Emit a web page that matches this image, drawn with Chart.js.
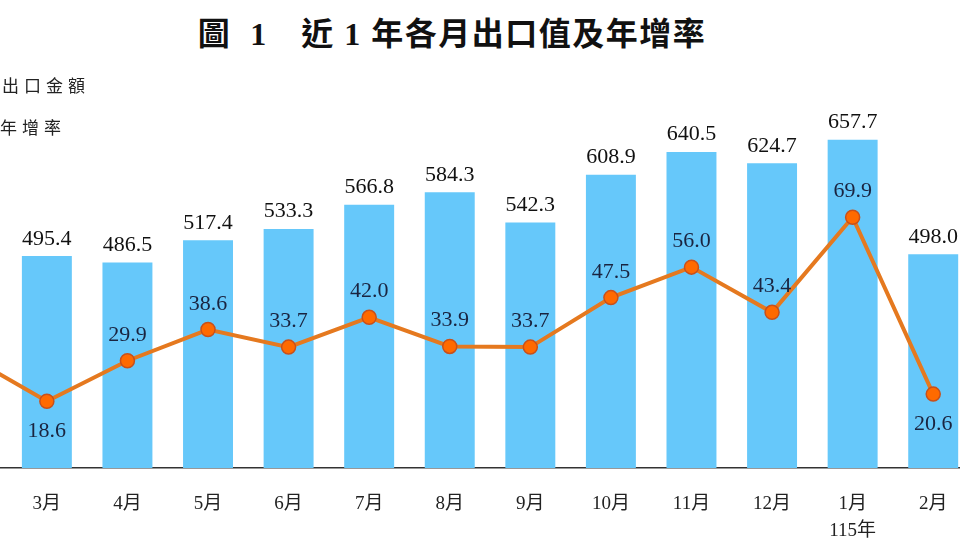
<!DOCTYPE html>
<html lang="zh-Hant">
<head>
  <meta charset="UTF-8">
  <title>近1年各月出口值及年增率</title>
  <script src="https://cdn.jsdelivr.net/npm/chart.js@4.4.1/dist/chart.umd.min.js"></script>
  <style>
    html, body {
      margin: 0;
      width: 960px;
      height: 540px;
      overflow: hidden;
      background: #fff;
    }
    .title {
      position: absolute;
      left: 0;
      width: 904px;
      top: 8px;
      text-align: center;
      font: bold 32px "Liberation Serif", "Noto Sans CJK TC", serif;
      letter-spacing: 1.5px;
      color: #111;
      white-space: pre;
    }
    .legend {
      position: absolute;
      left: -52px;
      top: 72px;
      font: 17px "Noto Sans CJK TC", sans-serif;
      letter-spacing: 5px;
      color: #222;
      z-index: 2;
    }
    .legend div {
      height: 42px;
      display: flex;
      align-items: flex-start;
    }
    .legend .box {
      width: 40px;
      height: 14px;
      margin: 5px 14px 0 0;
      background: #66c8fa;
    }
    .legend .ln {
      width: 40px;
      height: 4px;
      margin: 10px 12px 0 0;
      background: #e5791f;
    }
    .wrap {
      position: absolute;
      left: -100px;
      top: 0;
      width: 1100px;
      height: 540px;
    }
  </style>
</head>
<body>
  <div class="title">圖  1　近 1 年各月出口值及年增率</div>
  <div class="legend">
    <div><span class="box"></span>出口金額</div>
    <div><span class="ln"></span>年增率</div>
  </div>
  <div class="wrap"><canvas id="expChart"></canvas></div>
  <script>
    // 114年2月 ~ 115年2月 (first month sits off the left edge)
    const months = [['2月', '114年'], '3月', '4月', '5月', '6月', '7月', '8月', '9月', '10月', '11月', '12月', ['1月', '115年'], '2月'];
    const exportValue = [413.3, 495.4, 486.5, 517.4, 533.3, 566.8, 584.3, 542.3, 608.9, 640.5, 624.7, 657.7, 498.0];
    const growthRate = [31.5, 18.6, 29.9, 38.6, 33.7, 42.0, 33.9, 33.7, 47.5, 56.0, 43.4, 69.9, 20.6];
    const rateLabelSide = ['above', 'below', 'above', 'above', 'above', 'above', 'above', 'above', 'above', 'above', 'above', 'above', 'below'];

    const valueLabels = {
      id: 'valueLabels',
      afterDatasetsDraw(chart) {
        const ctx = chart.ctx;
        ctx.save();
        ctx.font = '22px "Liberation Serif", serif';
        ctx.textAlign = 'center';
        ctx.textBaseline = 'alphabetic';

        const bars = chart.getDatasetMeta(0).data;
        ctx.fillStyle = '#111';
        bars.forEach((bar, i) => {
          ctx.fillText(exportValue[i].toFixed(1), bar.x, bar.y - 11.5);
        });

        const pts = chart.getDatasetMeta(1).data;
        ctx.fillStyle = '#1a2440';
        pts.forEach((pt, i) => {
          const y = rateLabelSide[i] === 'below' ? pt.y + 36 : pt.y - 20;
          ctx.fillText(growthRate[i].toFixed(1), pt.x, y);
        });
        ctx.restore();
      }
    };

    new Chart(document.getElementById('expChart'), {
      data: {
        labels: months,
        datasets: [{
          type: 'bar',
          label: '出口金額',
          data: exportValue,
          yAxisID: 'y',
          backgroundColor: '#66c8fa',
          categoryPercentage: 1,
          barPercentage: 0.62,
          order: 1
        }, {
          type: 'line',
          label: '年增率',
          data: growthRate,
          yAxisID: 'y1',
          borderColor: '#e5791f',
          borderWidth: 4,
          pointRadius: 7,
          pointBackgroundColor: '#ff6a00',
          pointBorderColor: '#c8501a',
          pointBorderWidth: 1.5,
          tension: 0,
          order: 0
        }]
      },
      options: {
        responsive: true,
        maintainAspectRatio: false,
        animation: false,
        layout: { padding: { left: 26, right: 26.5, top: 109.3, bottom: 0 } },
        plugins: {
          legend: { display: false },
          tooltip: { enabled: false }
        },
        scales: {
          x: {
            offset: true,
            grid: { display: false, drawTicks: false },
            border: { display: true, color: '#333', width: 1.5 },
            ticks: {
              color: '#222',
              padding: 22,
              maxRotation: 0,
              autoSkip: false,
              font: { family: '"Liberation Serif", "Noto Sans CJK TC", serif', size: 19, lineHeight: 1.45 }
            },
            afterFit(scale) { scale.height = 72; }
          },
          y: { display: false, min: 200, max: 700 },
          y1: { display: false, min: 0, max: 100 }
        }
      },
      plugins: [valueLabels]
    });
  </script>
</body>
</html>
